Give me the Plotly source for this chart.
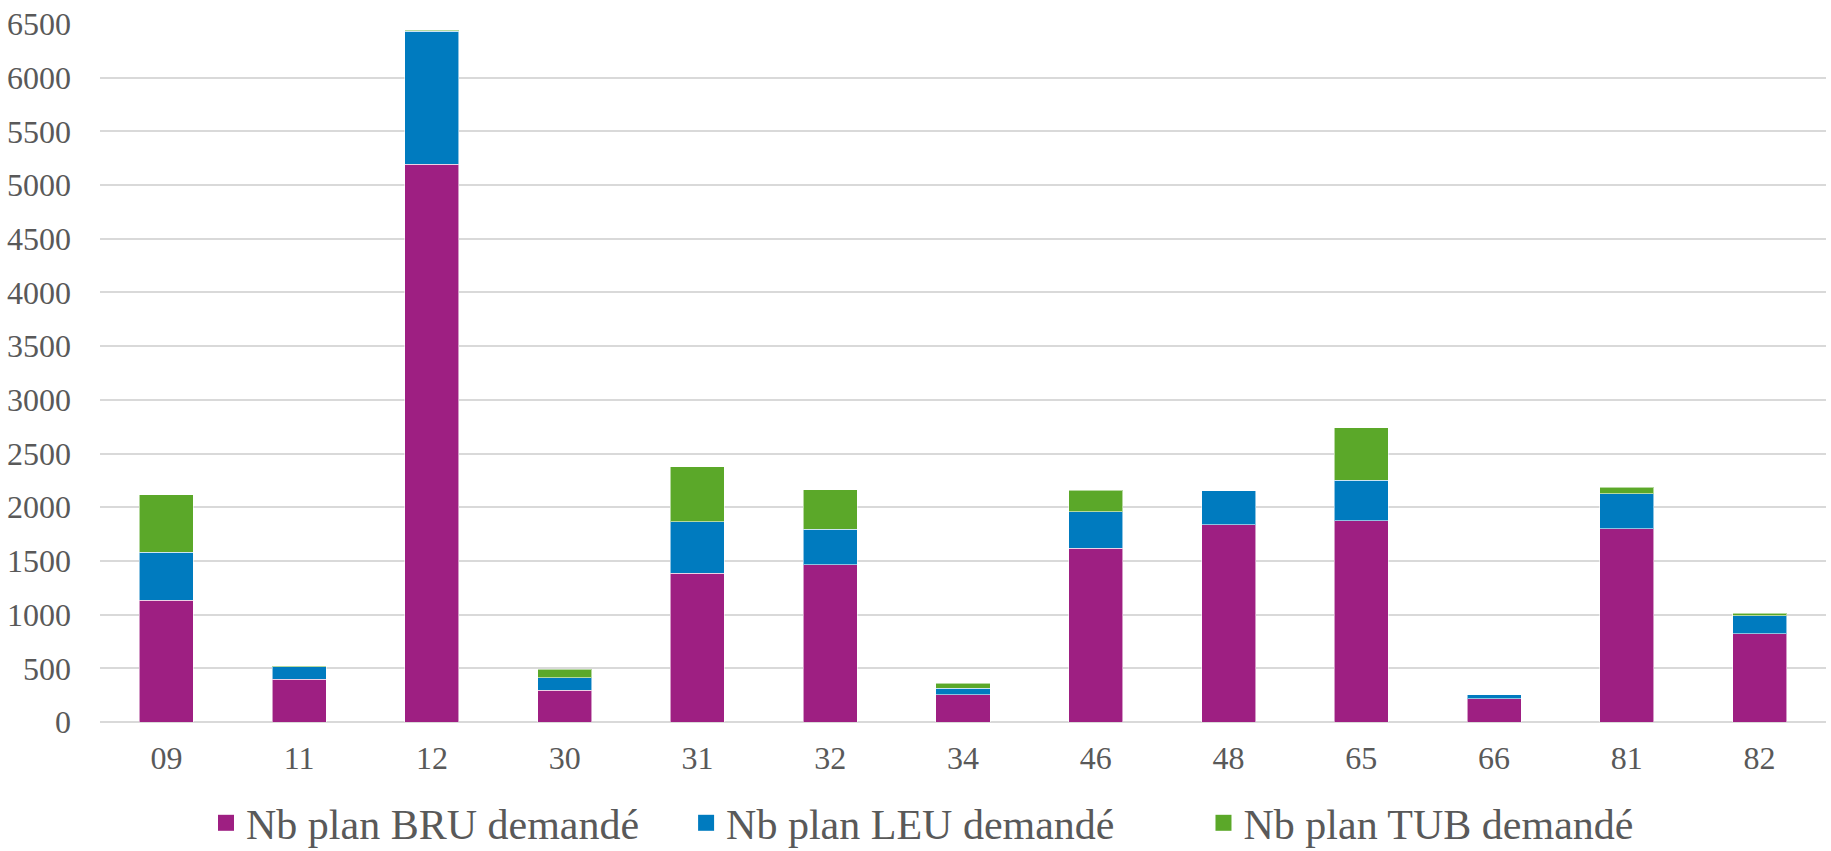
import plotly.graph_objects as go

categories = ["09", "11", "12", "30", "31", "32", "34", "46", "48", "65", "66", "81", "82"]
bru = [1134, 397, 5196, 298, 1385, 1466, 255, 1618, 1836, 1873, 218, 1800, 822]
leu = [447, 118, 1235, 114, 479, 329, 59, 339, 316, 378, 37, 325, 167]
tub = [534, 9, 9, 81, 515, 367, 46, 201, 0, 491, 0, 60, 23]
series_names = ["Nb plan BRU demandé", "Nb plan LEU demandé", "Nb plan TUB demandé"]
colors = ["#9E1F82", "#007BBF", "#5BA829"]
y_ticks = list(range(0, 7000, 500))
legend_pad = [4, 8, 0]

fig = go.Figure()
for name, vals, col in zip(series_names, [bru, leu, tub], colors):
    fig.add_trace(go.Bar(
        x=categories, y=vals, name=name, showlegend=False, legendgroup=name,
        marker=dict(color=col, line=dict(color="rgba(255,255,255,0.55)", width=1)),
    ))

# legend entries with square swatches
for name, col, pad in zip(series_names, colors, legend_pad):
    fig.add_trace(go.Scatter(
        x=[None], y=[None], mode="markers", name=name + "\u00a0" * pad, legendgroup=name,
        marker=dict(symbol="square", size=16, color=col), showlegend=True,
    ))

fig.update_layout(
    barmode="stack",
    bargap=0.593,
    width=1831, height=851,
    margin=dict(l=100, r=5, t=24, b=129, autoexpand=False),
    paper_bgcolor="white", plot_bgcolor="white",
    font=dict(family="Liberation Serif", color="#595959", size=32),
    showlegend=True,
    legend=dict(orientation="h", xref="container", yref="container",
                x=206 / 1831, xanchor="left", y=1 - 823 / 851, yanchor="middle",
                font=dict(size=42, color="#595959"), traceorder="normal",
                itemwidth=30, itemsizing="trace", bgcolor="rgba(0,0,0,0)"),
)
fig.update_xaxes(type="category", showgrid=False, showline=False, ticks="",
                 tickfont=dict(size=32, color="#595959"), ticklabelstandoff=14)
fig.update_yaxes(range=[0, 6500], tickvals=y_ticks, ticktext=[str(v) for v in y_ticks],
                 showgrid=True, gridcolor="#D9D9D9", gridwidth=1.5,
                 zeroline=True, zerolinecolor="#D9D9D9", zerolinewidth=1.5,
                 showline=False, ticks="", tickfont=dict(size=32, color="#595959"),
                 ticklabelstandoff=28)

fig.write_html("out.html", config={"displayModeBar": False},
               post_script="document.body.style.margin='0';")
